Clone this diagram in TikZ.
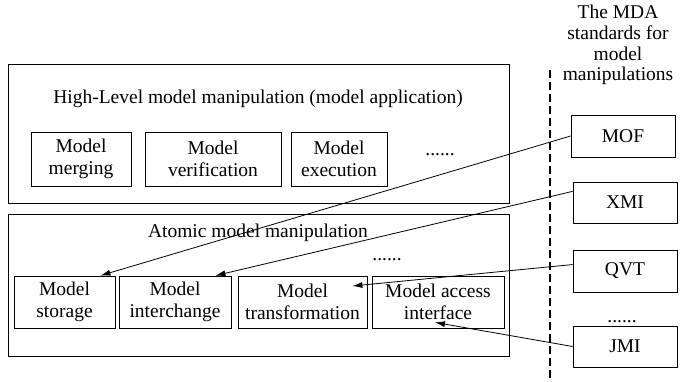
\documentclass[tikz,border=0pt]{standalone}
\usepackage{fontspec}
\setmainfont{Liberation Serif}
\usetikzlibrary{arrows.meta}
\begin{document}
\begin{tikzpicture}[x=1pt,y=-1pt,font=\fontsize{19.5}{22}\selectfont]

  \tikzstyle{box} = [draw, line width=0.8, align=center, inner sep=0]
  \tikzstyle{link} = [-{Latex[length=10pt,width=6pt]}, line width=0.8]

  \useasboundingbox (0,0) rectangle (680,382);

  % high-level layer
  \draw[line width=0.8] (8,64) rectangle (509,203);
  \node (HL) at (258,99) {High-Level model manipulation (model application)};
  \node[box, minimum width=100pt, minimum height=54pt] (merging) at (81,159) {Model\\merging};
  \node[box, minimum width=136pt, minimum height=54pt] (verification) at (213,159) {Model\\verification};
  \node[box, minimum width=96pt, minimum height=54pt] (execution) at (339,159) {Model\\execution};
  \node[anchor=base] (dotsHL) at (440,156) {......};

  % atomic layer
  \draw[line width=0.8] (8,214) rectangle (509,356);
  \node (AT) at (258,233) {Atomic model manipulation};
  \node[anchor=base] (dotsAT) at (387,260) {......};
  \node[box, minimum width=101pt, minimum height=52pt] (storage) at (64.5,302) {Model\\storage};
  \node[box, minimum width=112pt, minimum height=52pt] (interchange) at (175,302) {Model\\interchange};
  \node[box, minimum width=129pt, minimum height=52pt] (transformation) at (302.5,302) {Model\\transformation};
  \node[box, minimum width=132pt, minimum height=52pt] (access) at (438,302) {Model access\\interface};

  % MDA standards
  \draw[line width=1.4, dash pattern=on 8pt off 4pt] (550,70) -- (550,382);
  \node[align=center, inner sep=0, font=\fontsize{19.5}{20.7}\selectfont] (MDA) at (618,45) {The MDA\\standards for\\model\\manipulations};
  \node[box, minimum width=104pt, minimum height=42pt] (MOF) at (623,136) {MOF};
  \node[box, minimum width=104pt, minimum height=41pt] (XMI) at (625,202.5) {XMI};
  \node[box, minimum width=104pt, minimum height=42pt] (QVT) at (625,271) {QVT};
  \node[anchor=base] (dotsMDA) at (622,322) {......};
  \node[box, minimum width=104pt, minimum height=41pt] (JMI) at (625,346.5) {JMI};

  \draw[link] (MOF.west) -- ([xshift=-15pt]storage.north east);
  \draw[link] (XMI.168) -- ([xshift=-16pt]interchange.north east);
  \draw[link] (QVT.173) -- ([xshift=-15pt,yshift=16pt]transformation.east);
  \draw[link] (JMI.west) -- ([xshift=-3pt,yshift=6pt]access.south);

\end{tikzpicture}
\end{document}
